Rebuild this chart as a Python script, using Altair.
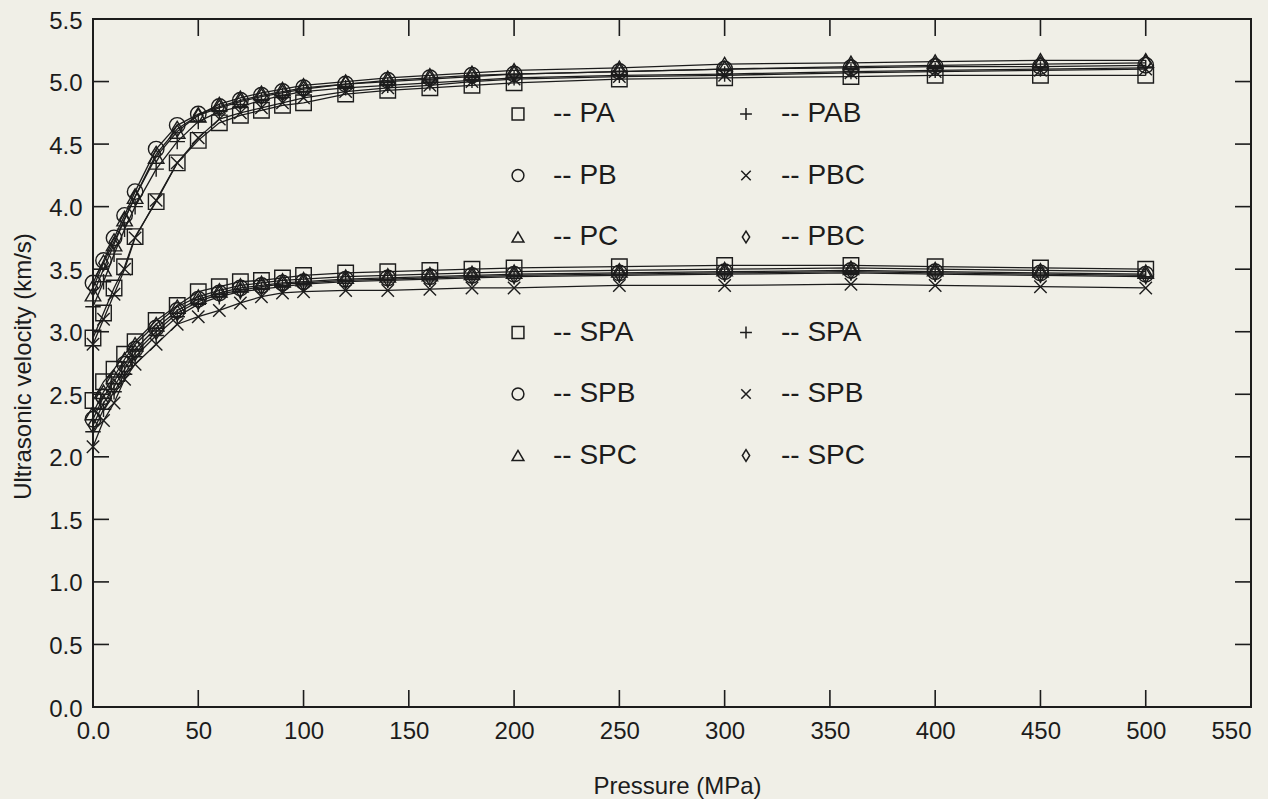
import altair as alt
import pandas as pd

# ---------------- data ----------------
PRESSURE = [0, 5, 10, 15, 20, 30, 40, 50, 60, 70, 80, 90, 100, 120, 140,
            160, 180, 200, 250, 300, 360, 400, 450, 500]

# P-wave group (upper curves)
PA = [2.95, 3.15, 3.35, 3.52, 3.76, 4.04, 4.35, 4.53, 4.67, 4.73, 4.77, 4.81,
      4.83, 4.90, 4.93, 4.95, 4.97, 4.99, 5.02, 5.03, 5.04, 5.05, 5.05, 5.05]
PB = [3.39, 3.57, 3.75, 3.93, 4.12, 4.46, 4.65, 4.74, 4.80, 4.85, 4.89, 4.92,
      4.95, 4.98, 5.01, 5.03, 5.05, 5.06, 5.08, 5.10, 5.11, 5.12, 5.12, 5.13]
PC = [3.30, 3.50, 3.70, 3.90, 4.08, 4.40, 4.60, 4.73, 4.82, 4.87, 4.91, 4.94,
      4.97, 5.00, 5.03, 5.05, 5.07, 5.09, 5.11, 5.14, 5.15, 5.16, 5.17, 5.17]
PAB = [3.20, 3.40, 3.62, 3.82, 4.00, 4.30, 4.52, 4.68, 4.76, 4.80, 4.85, 4.89,
       4.92, 4.95, 4.97, 4.99, 5.01, 5.03, 5.05, 5.06, 5.08, 5.09, 5.10, 5.11]
PBC_X = [2.90, 3.10, 3.30, 3.50, 3.75, 4.05, 4.35, 4.55, 4.70, 4.75, 4.79, 4.83,
         4.87, 4.92, 4.95, 4.97, 5.00, 5.02, 5.04, 5.05, 5.07, 5.08, 5.09, 5.10]
PBC_D = [3.35, 3.55, 3.72, 3.90, 4.08, 4.42, 4.62, 4.73, 4.79, 4.84, 4.88, 4.91,
         4.94, 4.98, 5.00, 5.02, 5.04, 5.06, 5.08, 5.10, 5.12, 5.13, 5.14, 5.15]

# S-wave group (lower curves)
SPA = [2.45, 2.60, 2.70, 2.82, 2.92, 3.09, 3.21, 3.32, 3.36, 3.40, 3.41, 3.43,
       3.45, 3.47, 3.48, 3.49, 3.50, 3.51, 3.52, 3.53, 3.53, 3.52, 3.51, 3.50]
SPB = [2.30, 2.48, 2.60, 2.74, 2.86, 3.03, 3.17, 3.26, 3.31, 3.35, 3.37, 3.39,
       3.40, 3.42, 3.43, 3.44, 3.45, 3.46, 3.47, 3.48, 3.49, 3.48, 3.47, 3.46]
SPC = [2.35, 2.52, 2.64, 2.78, 2.90, 3.06, 3.20, 3.28, 3.33, 3.37, 3.39, 3.41,
       3.42, 3.44, 3.45, 3.46, 3.47, 3.48, 3.49, 3.50, 3.51, 3.50, 3.49, 3.48]
SPA_P = [2.20, 2.38, 2.52, 2.66, 2.80, 2.97, 3.12, 3.22, 3.28, 3.32, 3.34, 3.36,
         3.38, 3.40, 3.41, 3.42, 3.43, 3.44, 3.45, 3.46, 3.47, 3.46, 3.45, 3.44]
SPB_X = [2.08, 2.29, 2.43, 2.62, 2.74, 2.90, 3.06, 3.12, 3.17, 3.23, 3.28, 3.31,
         3.32, 3.33, 3.33, 3.34, 3.35, 3.35, 3.37, 3.37, 3.38, 3.37, 3.36, 3.35]
SPC_D = [2.25, 2.43, 2.56, 2.70, 2.83, 3.00, 3.15, 3.24, 3.30, 3.33, 3.36, 3.38,
         3.39, 3.41, 3.42, 3.43, 3.44, 3.45, 3.46, 3.47, 3.48, 3.47, 3.46, 3.45]

# legend order (column-major, two columns of three)
P_KEYS = ["PA", "PB", "PC", "PAB", "PBC", "PBC #2"]
P_VALUES = [PA, PB, PC, PAB, PBC_X, PBC_D]
S_KEYS = ["SPA", "SPB", "SPC", "SPA #2", "SPB #2", "SPC #2"]
S_VALUES = [SPA, SPB, SPC, SPA_P, SPB_X, SPC_D]

SHAPES = ["square", "circle", "triangle-up",
          "M-1,0L1,0M0,-1L0,1",
          "M-0.8,-0.8L0.8,0.8M-0.8,0.8L0.8,-0.8",
          "M0,-1L0.62,0L0,1L-0.62,0Z"]

X_TICKS = [0, 50, 100, 150, 200, 250, 300, 350, 400, 450, 500, 550]
X_INNER = [50, 100, 150, 200, 250, 300, 350, 400, 450, 500]
Y_TICKS = [0.0, 0.5, 1.0, 1.5, 2.0, 2.5, 3.0, 3.5, 4.0, 4.5, 5.0, 5.5]
Y_INNER = [0.5, 1.0, 1.5, 2.0, 2.5, 3.0, 3.5, 4.0, 4.5, 5.0]

rows = []
for grp, keys, vals in (("P", P_KEYS, P_VALUES), ("S", S_KEYS, S_VALUES)):
    for k, v in zip(keys, vals):
        for p, val in zip(PRESSURE, v):
            rows.append({"group": grp, "series": k, "pressure": p, "velocity": val})
df = pd.DataFrame(rows)
xt = pd.DataFrame({"pressure": X_INNER})
yt = pd.DataFrame({"velocity": Y_INNER})

INK = "#1c1c1c"
FONT = "Liberation Sans"
W, H = 1158, 688
TX, TY = 17, 16  # inward tick lengths

x_scale = alt.Scale(domain=[0, 550], nice=False, zero=False)
y_scale = alt.Scale(domain=[0, 5.5], nice=False, zero=False)

lines = alt.Chart(df).mark_line(color=INK, strokeWidth=1.3).encode(
    x=alt.X("pressure:Q", scale=x_scale,
            axis=alt.Axis(orient="bottom", values=X_TICKS, format="d",
                          labelExpr="datum.value == 0 ? '0.0' : datum.label",
                          labelAlign={"condition": {"test": "datum.value == 550",
                                                    "value": "right"},
                                      "value": "center"},
                          ticks=False, tickSize=0, domain=False, grid=False,
                          labelFlush=False,
                          labelPadding=12, labelFontSize=24, labelColor=INK,
                          labelFont=FONT, title="Pressure (MPa)",
                          titleFontSize=24, titleFont=FONT, titleColor=INK,
                          titleFontWeight="normal", titleBaseline="alphabetic",
                          titleX=584, titleY=86)),
    y=alt.Y("velocity:Q", scale=y_scale,
            axis=alt.Axis(orient="left", values=Y_TICKS, format=".1f",
                          ticks=False, tickSize=0, domain=False, grid=False,
                          labelFlush=False,
                          labelPadding=11, labelFontSize=24, labelOffset=2,
                          labelColor=INK, labelFont=FONT,
                          title="Ultrasonic velocity (km/s)", titleFontSize=24,
                          titleFont=FONT, titleColor=INK,
                          titleFontWeight="normal", titleBaseline="middle",
                          titleAlign="center", titleX=-70, titleY=347)),
    detail="series:N",
)

tick_bottom = alt.Chart(xt).mark_rule(color=INK, strokeWidth=1.6).encode(
    x=alt.X("pressure:Q", scale=x_scale, axis=None),
    y=alt.value(H), y2=alt.value(H - TX))
tick_top = alt.Chart(xt).mark_rule(color=INK, strokeWidth=1.6).encode(
    x=alt.X("pressure:Q", scale=x_scale, axis=None),
    y=alt.value(0), y2=alt.value(TX))
tick_left = alt.Chart(yt).mark_rule(color=INK, strokeWidth=1.6).encode(
    y=alt.Y("velocity:Q", scale=y_scale, axis=None),
    x=alt.value(0), x2=alt.value(TY))
tick_right = alt.Chart(yt).mark_rule(color=INK, strokeWidth=1.6).encode(
    y=alt.Y("velocity:Q", scale=y_scale, axis=None),
    x=alt.value(W), x2=alt.value(W - TY))

def legend(y, col_pad):
    return alt.Legend(title=None, orient="none", legendX=411, legendY=y,
                      columns=2, columnPadding=col_pad, rowPadding=33.5,
                      padding=0, symbolSize=140, symbolStrokeWidth=1.5,
                      symbolStrokeColor=INK, labelFontSize=28, labelFont=FONT,
                      labelColor=INK, labelOffset=21,
                      labelExpr="'-- ' + replace(datum.label, ' #2', '')")

pts_p = alt.Chart(df[df.group == "P"]).mark_point(
    filled=False, size=240, strokeWidth=1.4, color=INK, opacity=1
).encode(
    x=alt.X("pressure:Q", scale=x_scale, axis=None),
    y=alt.Y("velocity:Q", scale=y_scale, axis=None),
    shape=alt.Shape("series:N", scale=alt.Scale(domain=P_KEYS, range=SHAPES),
                    legend=legend(81, 113)),
)

pts_s = alt.Chart(df[df.group == "S"]).mark_point(
    filled=False, size=240, strokeWidth=1.4, color=INK, opacity=1
).encode(
    x=alt.X("pressure:Q", scale=x_scale, axis=None),
    y=alt.Y("velocity:Q", scale=y_scale, axis=None),
    shape=alt.Shape("series:N", scale=alt.Scale(domain=S_KEYS, range=SHAPES),
                    legend=legend(299.5, 95)),
)

chart = alt.layer(
    lines, tick_bottom, tick_top, tick_left, tick_right, pts_p, pts_s
).resolve_scale(
    shape="independent"
).resolve_legend(
    shape="independent"
).resolve_axis(
    x="independent", y="independent"
).properties(
    width=W, height=H,
    autosize=alt.AutoSizeParams(type="none"),
    padding={"left": 93, "top": 19, "right": 17, "bottom": 92},
    background="#f0efe7",
).configure_view(
    stroke=INK, strokeWidth=2
)

chart.save("out.html", embed_options={"renderer": "svg", "actions": False})
